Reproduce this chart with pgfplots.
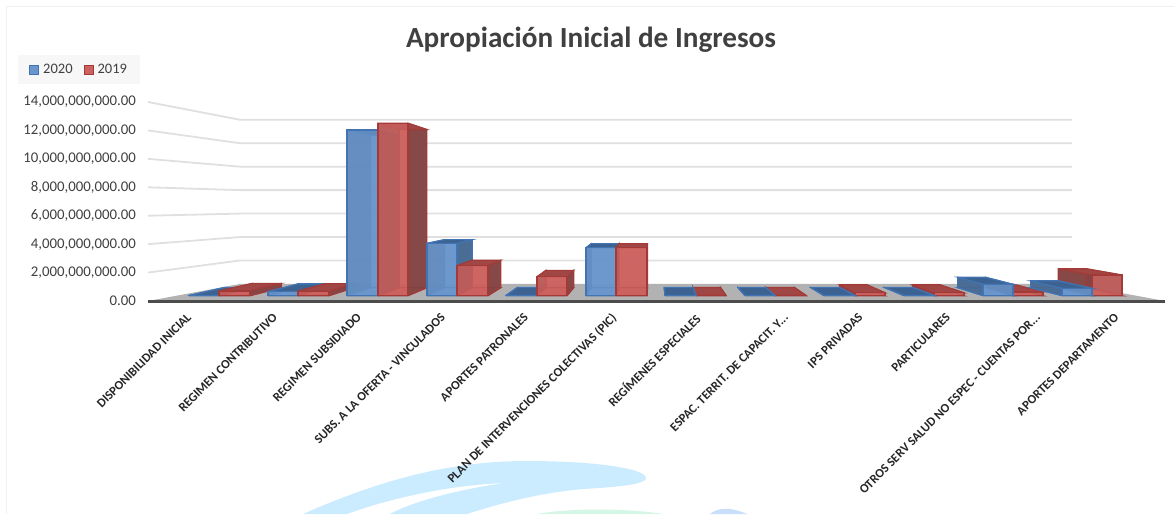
\documentclass[border=0pt]{standalone}
\usepackage{pgfplots}
\pgfplotsset{compat=1.18}
\usepackage{fontspec}
\setmainfont{Carlito}
\definecolor{txt}{HTML}{404040}
\definecolor{bF}{HTML}{6A96CC}\definecolor{bW}{HTML}{466890}\definecolor{bT}{HTML}{3C6292}\definecolor{bE}{HTML}{4274B4}
\definecolor{rF}{HTML}{CC6260}\definecolor{rW}{HTML}{804444}\definecolor{rT}{HTML}{A04644}\definecolor{rE}{HTML}{A43A38}
\definecolor{wmA}{HTML}{CBECFF}\definecolor{wmB}{HTML}{D6F6E8}\definecolor{wmC}{HTML}{C8DEFB}
% one 3-D bar: #1 colour prefix, #2 left x, #3 right x, #4 value
\newcommand{\barthree}[4]{%
 \pgfmathsetmacro{\xa}{#2}\pgfmathsetmacro{\xb}{#3}%
 \pgfmathsetmacro{\xc}{\xa+(654-\xa)*0.077}\pgfmathsetmacro{\xd}{\xb+(654-\xb)*0.077}%
 \pgfmathsetmacro{\ya}{0.373}\pgfmathsetmacro{\yb}{0.373+#4*0.945}%
 \pgfmathsetmacro{\yc}{\ya+(7.18-\ya)*0.083}\pgfmathsetmacro{\yd}{\yb+(7.18-\yb)*0.083}%
 \addplot[forget plot,fill=#1F,draw=#1E,line width=1.1pt,fill opacity=.9] coordinates {(\xc,\yc)(\xd,\yc)(\xd,\yd)(\xc,\yd)(\xc,\yc)};%
 \addplot[forget plot,fill=#1F,draw=#1E,line width=1.1pt] coordinates {(\xa,\ya)(\xb,\ya)(\xd,\yc)(\xc,\yc)(\xa,\ya)};%
 \addplot[forget plot,fill=#1W,draw=#1E,line width=1.1pt,fill opacity=.9] coordinates {(\xa,\ya)(\xc,\yc)(\xc,\yd)(\xa,\yb)(\xa,\ya)};%
 \addplot[forget plot,fill=#1W,draw=#1E,line width=1.1pt,fill opacity=.9] coordinates {(\xb,\ya)(\xd,\yc)(\xd,\yd)(\xb,\yb)(\xb,\ya)};%
 \addplot[forget plot,fill=#1T,draw=#1E,line width=1.1pt] coordinates {(\xa,\yb)(\xb,\yb)(\xd,\yd)(\xc,\yd)(\xa,\yb)};%
 \addplot[forget plot,fill=#1F,draw=#1E,line width=1.3pt,fill opacity=.78] coordinates {(\xa,\ya)(\xb,\ya)(\xb,\yb)(\xa,\yb)(\xa,\ya)};%
}
\begin{document}
\begin{tikzpicture}[x=1pt,y=1pt]
\useasboundingbox (-148,-213) rectangle (1026,301);
% white page, frame
\fill[white] (-148,-213) rectangle (1026,301);
\draw[draw=black!6,line width=.7pt] (-142,-213)--(-142,295)--(1026,295);
% watermark
\fill[wmA] (155,-213) .. controls (230,-180) and (300,-160) .. (379,-160) .. controls (450,-160) and (498,-168) .. (498,-177)
 .. controls (498,-185) and (450,-187) .. (435,-188) .. controls (390,-192) and (350,-203) .. (319,-213) -- (242,-213)
 .. controls (270,-198) and (320,-187) .. (357,-182) .. controls (300,-184) and (240,-198) .. (199,-213) -- cycle;
\fill[wmB] (389,-213) .. controls (420,-207) and (480,-207) .. (515,-213) -- cycle;
\fill[wmC] (562,-213) .. controls (570,-207) and (580,-205) .. (599,-213) -- cycle;
\begin{axis}[at={(0,0)},anchor=origin,scale only axis,width=1017pt,height=199pt,
 xmin=148,xmax=1165,ymin=0,ymax=14,clip=false,
 axis line style={draw=none},
 axis x line*=bottom,axis y line*=left,
 tick style={draw=none},
 xtick={193,279,363,447,530,617.5,701,790,864.5,952,1042,1120.5},
 xticklabels={DISPONIBILIDAD INICIAL,REGIMEN CONTRIBUTIVO,REGIMEN SUBSIDIADO,SUBS. A LA OFERTA - VINCULADOS,APORTES PATRONALES,PLAN DE INTERVENCIONES COLECTIVAS (PIC),REGÍMENES ESPECIALES,{ESPAC. TERRIT. DE CAPACIT. Y.{}.{}.},IPS  PRIVADAS,PARTICULARES,{OTROS SERV SALUD NO ESPEC - CUENTAS POR.{}.{}.},APORTES DEPARTAMENTO},
 x tick label style={rotate=45,anchor=north east,font=\bfseries\fontsize{12.6}{14}\selectfont,text=black!85,inner sep=0pt,yshift=-3pt,xshift=-12.85pt},
 ytick={0,2,4,6,8,10,12,14},
 yticklabels={0.00,{2,000,000,000.00},{4,000,000,000.00},{6,000,000,000.00},{8,000,000,000.00},{10,000,000,000.00},{12,000,000,000.00},{14,000,000,000.00}},
 y tick label style={font=\fontsize{14.8}{16}\selectfont,text=txt,inner sep=0pt,xshift=-12pt},
 legend image code/.code={\draw[#1] (0pt,-4.5pt) rectangle (9pt,4.5pt);\path (11pt,0pt);},
 legend style={at={(axis cs:18,17.3)},anchor=north west,fill=black!3,draw=none,legend columns=2,font=\fontsize{14.5}{16}\selectfont,text=txt,/tikz/every even column/.append style={column sep=9pt},inner xsep=11pt,inner ysep=7pt},
 legend cell align=left,
]
% floor
\addplot[forget plot,fill=black!30,draw=none] coordinates {(148,0)(1165,0)(1072,1.2)(240,1.2)(148,0)};
% grid
\addplot[forget plot,draw=black!12,line width=1.8pt] coordinates {(148,2)(240,2.85)(1072,2.85)};
\addplot[forget plot,draw=black!12,line width=1.8pt] coordinates {(148,4)(240,4.50)(1072,4.50)};
\addplot[forget plot,draw=black!12,line width=1.8pt] coordinates {(148,6)(240,6.15)(1072,6.15)};
\addplot[forget plot,draw=black!12,line width=1.8pt] coordinates {(148,8)(240,7.80)(1072,7.80)};
\addplot[forget plot,draw=black!12,line width=1.8pt] coordinates {(148,10)(240,9.45)(1072,9.45)};
\addplot[forget plot,draw=black!12,line width=1.8pt] coordinates {(148,12)(240,11.10)(1072,11.10)};
\addplot[forget plot,draw=black!12,line width=1.8pt] coordinates {(148,14)(240,12.75)(1072,12.75)};
\addplot[forget plot,draw=black!70,line width=3pt] coordinates {(148,0)(1165,0)};
% bars: x-range of the front face in px, value in thousand millions
\barthree{b}{189}{219}{0.02}\barthree{r}{219}{250}{0.35}
\barthree{b}{268}{298}{0.30}\barthree{r}{298}{329}{0.33}
\barthree{b}{347}{378}{12.34}\barthree{r}{378}{408}{12.84}
\barthree{b}{427}{457}{3.90}\barthree{r}{457}{488}{2.23}
\barthree{b}{506}{537}{0.02}\barthree{r}{537}{567}{1.41}
\barthree{b}{586}{616}{3.57}\barthree{r}{616}{647}{3.57}
\barthree{r}{696}{726}{0.02}\barthree{b}{665}{696}{0.02}
\barthree{r}{775}{806}{0.02}\barthree{b}{745}{775}{0.02}
\barthree{r}{855}{885}{0.22}\barthree{b}{824}{855}{0.02}
\barthree{r}{934}{964}{0.22}\barthree{b}{904}{934}{0.02}
\barthree{r}{1013}{1043}{0.28}\barthree{b}{983}{1013}{0.85}
\barthree{r}{1092}{1122}{1.54}\barthree{b}{1062}{1092}{0.55}
\addlegendimage{fill=bF,draw=bE,line width=1pt}\addlegendentry{2020}
\addlegendimage{fill=rF,draw=rE,line width=1pt}\addlegendentry{2019}
\node[font=\bfseries\fontsize{29.2}{32}\selectfont,text=txt,anchor=center] at (axis cs:591,18.41) {Apropiación Inicial de Ingresos};
\end{axis}
\end{tikzpicture}
\end{document}
